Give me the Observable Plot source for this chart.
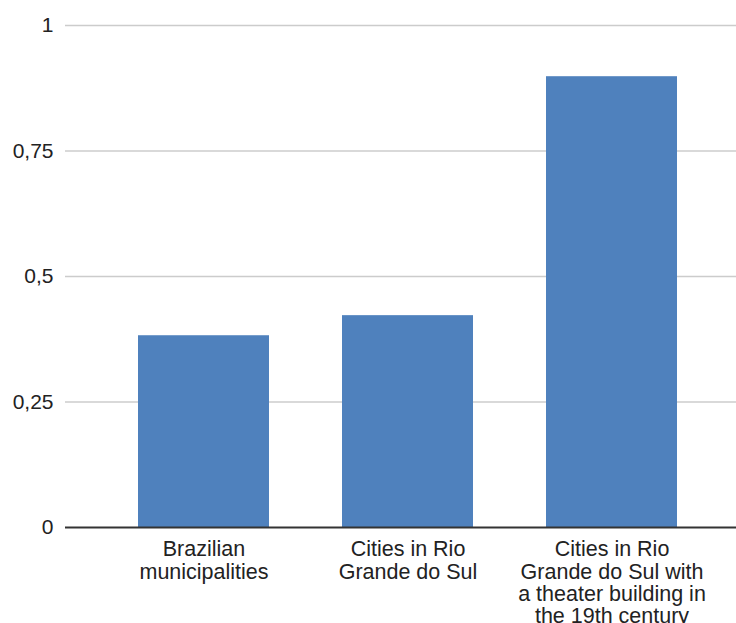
<!DOCTYPE html>
<html>
<head>
<meta charset="utf-8">
<script src="https://cdn.jsdelivr.net/npm/d3@7"></script>
<script src="https://cdn.jsdelivr.net/npm/@observablehq/plot@0.6"></script>
<style>
  html, body { margin: 0; padding: 0; background: #fff; }
  #chart svg { display: block; }
</style>
</head>
<body>
<div id="chart"></div>
<script>
const categories = [
  "Brazilian municipalities",
  "Cities in Rio Grande do Sul",
  "Cities in Rio Grande do Sul with a theater building in the 19th century"
];
const categoryLabels = [
  "Brazilian\nmunicipalities",
  "Cities in Rio\nGrande do Sul",
  "Cities in Rio\nGrande do Sul with\na theater building in\nthe 19th century"
];
const values = [0.382, 0.422, 0.898];
const yTicks = [0, 0.25, 0.5, 0.75, 1];
const yTickLabels = ["0", "0,25", "0,5", "0,75", "1"];

const data = categories.map((c, i) => ({category: c, value: values[i]}));
const labelOf = new Map(categories.map((c, i) => [c, categoryLabels[i]]));
const yLabelOf = new Map(yTicks.map((t, i) => [t, yTickLabels[i]]));

const chart = Plot.plot({
  width: 736,
  height: 623,
  marginTop: 25,
  marginBottom: 96,
  marginLeft: 65,
  marginRight: 0,
  style: {fontFamily: "'Liberation Sans', Arial, sans-serif", fontSize: "21px", color: "#222", background: "#fff"},
  x: {domain: categories, range: [101.5, 713.5], paddingInner: 0.358, paddingOuter: 0.179},
  y: {domain: [0, 1]},
  marks: [
    Plot.ruleY(yTicks.filter(t => t !== 0), {stroke: "#cccccc", strokeWidth: 1.5}),
    Plot.barY(data, {x: "category", y: "value", fill: "#4f81bd"}),
    Plot.ruleY([0], {stroke: "#333333", strokeWidth: 2}),
    Plot.axisY({ticks: yTicks, tickFormat: d => yLabelOf.get(d), tickSize: 0, tickPadding: 12, fontSize: 21, fill: "#222", label: null}),
    Plot.axisX({tickFormat: d => labelOf.get(d), tickSize: 0, tickPadding: 13, fontSize: 21.5, fill: "#222", lineHeight: 1.04, lineAnchor: "top", label: null})
  ]
});
document.getElementById("chart").appendChild(chart);
</script>
</body>
</html>
